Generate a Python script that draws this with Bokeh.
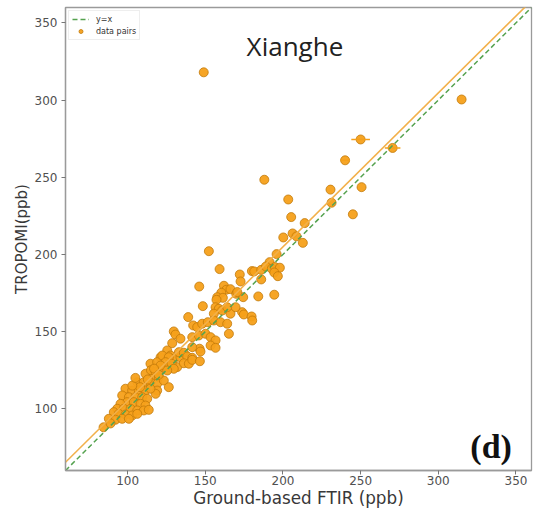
from bokeh.plotting import figure
from bokeh.models import Legend, LegendItem, FixedTicker, Range1d, Label
from bokeh.embed import file_html
from bokeh.resources import INLINE

# Ground-based FTIR (x) vs TROPOMI (y), ppb
ftir = [315, 250, 270.6, 240, 230.6, 250.6, 231.3, 245, 214, 149,
        188, 203.4, 205.3, 206.2, 208.7, 200.2, 212.8, 152.3, 195.9, 159.2,
        191.4, 180, 181.5, 186, 189, 192.8, 194.8, 198, 194.4, 196.7,
        172.2, 172.7, 186, 146.1, 162, 163.5, 166.2, 160.3, 157.7, 161.3,
        169.9, 174.4, 184.1, 194.4, 148.4, 139, 173.7, 174.8, 179.8, 166.2,
        157.2, 156.6, 158.7, 155.5, 160.9, 169.5, 164.1, 142.2, 144.8, 148,
        151.6, 155.5, 159.8, 164.1, 129.7, 130.8, 134, 141.6, 145.8, 150.1,
        153.4, 156.6, 153.4, 156.6, 128.7, 146.3, 141.6, 125.5, 121.2, 127.6,
        129.7, 134, 133, 136.2, 138.4, 141.6, 146.9, 114.7, 119, 122.3,
        126.5, 131.9, 136.2, 139.4, 141.6, 146.5, 165.2, 170.6, 180.2, 122.3,
        126.5, 124.4, 128.3, 121.2, 129.7, 125.5, 111.5, 116.9, 120.1, 106.2,
        110.4, 114.7, 119, 123.3, 126.5, 119, 118, 98.6, 102.9, 107.2,
        111.5, 114.7, 96.5, 100.8, 105.1, 109.4, 112.6, 99.7, 104, 108.3,
        111.5, 95.4, 93.3, 97.5, 101.9, 106.2, 110.4, 91.1, 94.3, 98.6,
        102.9, 106.2, 87.9, 92.2, 96.5, 100.8, 84.5, 89, 113.6, 115,
        118, 113, 108, 103, 117, 105, 120]
tropomi = [300.4, 274.5, 269, 261, 242, 243.6, 233.5, 226, 220.3, 318,
           248.4, 235.6, 224.2, 213.6, 211.7, 211, 207.5, 202.1, 200.2, 190.5,
           195, 189.2, 189, 190, 192.2, 190.7, 191.8, 191.4, 188.3, 185.9,
           187, 182.5, 183.8, 179.2, 179.7, 177.1, 177.5, 175.2, 172.3, 171.9,
           174.5, 172.3, 172.8, 173.9, 166.5, 159.4, 162.6, 161.1, 159.8, 161.6,
           170.6, 165.8, 164.8, 161.6, 163.7, 165.8, 165.8, 154, 152.9, 155.1,
           156.1, 157.2, 156.1, 155.1, 150.1, 148.1, 145.4, 146.4, 147.5, 148.6,
           146.4, 144.3, 141, 139.5, 142.5, 138.9, 139.9, 137.8, 133.4, 134.5,
           132.4, 133.4, 136.7, 136.3, 133.9, 133, 137.1, 129.2, 130.2, 127,
           127, 127, 129.5, 129.2, 131.7, 130.8, 148.6, 175.6, 157.2, 134.5,
           133.4, 130.2, 129.2, 128, 125.9, 124.8, 122.7, 121.6, 120.5, 117.2,
           117.2, 117.2, 116.2, 118.3, 114, 111.8, 109.7, 113, 111.8, 111.8,
           111.8, 113, 108.6, 107.5, 107.5, 107.5, 106.5, 104.3, 104.3, 103.2,
           102.1, 103.2, 100, 100, 100, 98.9, 98.9, 97.8, 96.7, 96.3,
           95.6, 96.7, 93.5, 92.9, 93.5, 93.5, 88, 90.5, 99.3, 125,
           124, 119, 114, 115, 126, 120, 122]

# points with horizontal uncertainty bars
err_ftir = [250, 270.6, 240]
err_tropomi = [274.5, 269, 261]
err_half = [6, 5, 3]

fit_slope = 0.997
fit_intercept = 5.5
line_x = [60, 360]
tick_values = [100, 150, 200, 250, 300, 350]

p = figure(width=539, height=511, title=None,
           x_range=Range1d(60, 360), y_range=Range1d(60, 360),
           output_backend="svg", toolbar_location=None,
           min_border_left=65, min_border_right=8, min_border_top=7, min_border_bottom=41)

p.grid.visible = False
p.outline_line_color = "#9a9a9a"
p.outline_line_width = 1.3
p.background_fill_color = "white"
p.border_fill_color = "white"

for ax in (p.xaxis[0], p.yaxis[0]):
    ax.ticker = FixedTicker(ticks=tick_values)
    ax.axis_line_color = "#9a9a9a"
    ax.axis_line_width = 1.3
    ax.major_tick_line_color = "#777777"
    ax.major_tick_out = 4
    ax.major_tick_in = 0
    ax.minor_tick_line_color = None
    ax.major_label_text_font = "DejaVu Sans"
    ax.major_label_text_font_size = "12px"
    ax.major_label_text_color = "#505050"
    ax.axis_label_text_font = "DejaVu Sans"
    ax.axis_label_text_font_style = "normal"
    ax.axis_label_text_color = "#383838"

p.xaxis.axis_label = "Ground-based FTIR (ppb)"
p.xaxis.axis_label_text_font_size = "16.8px"
p.xaxis.major_label_standoff = 1
p.xaxis.axis_label_standoff = 0
p.yaxis.axis_label = "TROPOMI(ppb)"
p.yaxis.axis_label_text_font_size = "15px"
p.yaxis.major_label_standoff = 4
p.yaxis.axis_label_standoff = 1

r_pts = p.scatter(ftir, tropomi, marker="circle", size=9,
                  fill_color="#F5A01A", line_color="#C27A0A", line_width=0.8, fill_alpha=0.95)

p.segment(x0=[x - d for x, d in zip(err_ftir, err_half)], y0=err_tropomi,
          x1=[x + d for x, d in zip(err_ftir, err_half)], y1=err_tropomi,
          line_color="#F5A01A", line_width=1.5)

r_fit = p.line(line_x, [fit_slope * v + fit_intercept for v in line_x],
               line_color="#F2B04A", line_width=1.6)
r_yx = p.line(line_x, line_x, line_color="#55A24F", line_width=1.5, line_dash="5 3")

legend = Legend(items=[LegendItem(label="y=x", renderers=[r_yx]),
                       LegendItem(label="data pairs", renderers=[r_pts])],
                location="top_left")
legend.label_text_font = "DejaVu Sans"
legend.label_text_font_size = "8px"
legend.label_text_color = "#333333"
legend.glyph_width = 17
legend.glyph_height = 10
legend.label_height = 10
legend.label_standoff = 7
legend.spacing = 2
legend.padding = 3
legend.margin = 3
legend.border_line_color = "#dddddd"
legend.border_line_width = 1
legend.background_fill_alpha = 0.9
p.add_layout(legend)

p.add_layout(Label(x=207.7, y=335.3, text="Xianghe", text_font="Open Sans",
                   text_font_size="26px", text_align="center", text_baseline="alphabetic",
                   text_color="#222222"))
p.add_layout(Label(x=334, y=75.8, text="(d)", text_font="Liberation Serif",
                   text_font_size="34px", text_font_style="bold", text_align="center",
                   text_baseline="alphabetic", text_color="#111111"))

open("out.html", "w").write(file_html(p, INLINE))
